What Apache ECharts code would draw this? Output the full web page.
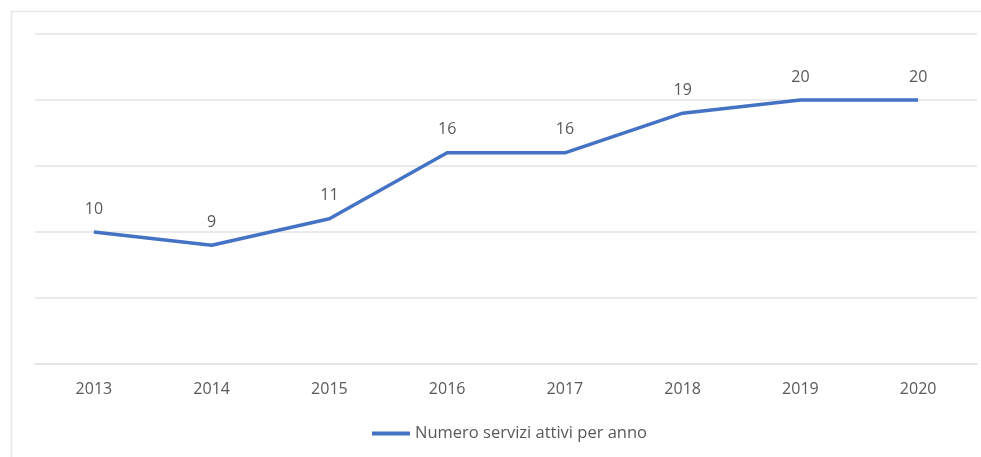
<!DOCTYPE html>
<html>
<head>
<meta charset="utf-8">
<script src="https://cdn.jsdelivr.net/npm/echarts@6/dist/echarts.min.js"></script>
<style>html,body{margin:0;padding:0;background:#fff}#c{width:981px;height:457px}</style>
</head>
<body>
<div id="c"></div>
<script>
const categories = ['2013','2014','2015','2016','2017','2018','2019','2020'];
const values = [10, 9, 11, 16, 16, 19, 20, 20];
const seriesName = 'Numero servizi attivi per anno';

const chart = echarts.init(document.getElementById('c'));
chart.setOption({
  animation: false,
  backgroundColor: '#ffffff',
  textStyle: { fontFamily: 'Open Sans' },
  graphic: [{
    type: 'rect', silent: true, z: -1,
    shape: { x: 11.5, y: 11.5, width: 1000, height: 500 },
    style: { fill: 'none', stroke: '#e6e6e6', lineWidth: 1.5 }
  }],
  grid: { left: 35, right: 4, top: 34, bottom: 93, containLabel: false },
  legend: {
    bottom: 10, left: 367,
    itemWidth: 38, itemHeight: 4, itemGap: 8,
    textStyle: { color: '#595959', fontSize: 16.5, fontFamily: 'Open Sans' },
    data: [{ name: seriesName, icon: 'rect' }]
  },
  xAxis: {
    type: 'category', data: categories, boundaryGap: true,
    axisLine: { show: true, lineStyle: { color: '#e3e3e3', width: 1.5 } },
    axisTick: { show: false },
    axisLabel: { color: '#595959', fontSize: 16, margin: 17 }
  },
  yAxis: {
    type: 'value', min: 0, max: 25, interval: 5,
    axisLabel: { show: false }, axisLine: { show: false }, axisTick: { show: false },
    splitLine: { lineStyle: { color: '#e3e3e3', width: 1.5 } }
  },
  series: [{
    name: seriesName, type: 'line', data: values,
    symbol: 'circle', symbolSize: 0, showSymbol: true, smooth: false,
    lineStyle: { color: '#4472c4', width: 3.5 },
    itemStyle: { color: '#4472c4' },
    label: { show: true, position: 'top', distance: 15, color: '#595959', fontSize: 16 }
  }]
});
</script>
</body>
</html>
